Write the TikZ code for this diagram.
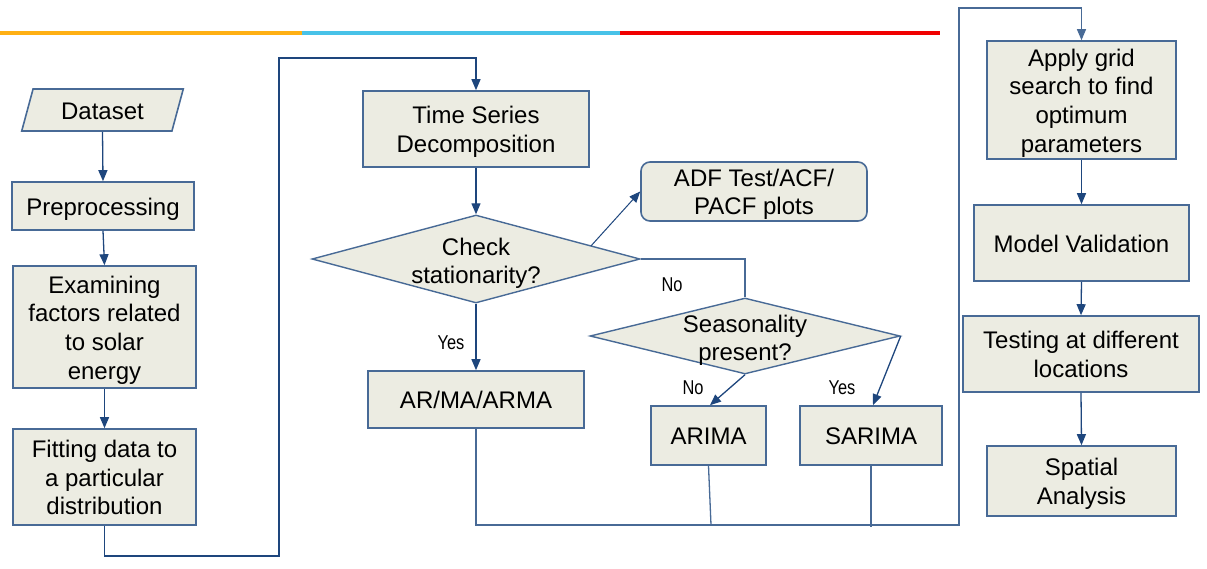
\documentclass[tikz,border=0pt]{standalone}
\usepackage{fontspec}
\setmainfont{Liberation Sans}
\newfontfamily\lblfont[FakeStretch=0.82]{Liberation Sans}
\usetikzlibrary{arrows.meta,shapes.geometric,calc}
\definecolor{boxfill}{RGB}{236,236,226}
\definecolor{bordercol}{RGB}{72,106,150}
\definecolor{arrcol}{RGB}{30,70,125}
\definecolor{barorange}{RGB}{255,176,20}
\definecolor{barcyan}{RGB}{72,194,232}
\definecolor{barred}{RGB}{240,0,0}
\newcommand{\stt}{\rule{0pt}{0.97em}}
\newcommand{\stb}{\rule[-0.212em]{0pt}{0pt}}
\tikzset{
  box/.style={draw=bordercol, line width=1.6pt, fill=boxfill, inner sep=0pt, align=center,
    font=\fontsize{24}{28.7}\selectfont},
  dia/.style={diamond, draw=bordercol, line width=1.4pt, fill=boxfill, inner sep=0pt},
  txt/.style={inner sep=0pt, align=center, font=\fontsize{24}{28}\selectfont},
  lbl/.style={inner sep=0pt, font=\lblfont\fontsize{20}{24}\selectfont},
  ln/.style={draw=bordercol, line width=1.3pt},
  arr/.style={draw=arrcol, line width=1.3pt, -{Triangle[length=11pt,width=9pt]}},
}
\begin{document}
\begin{tikzpicture}[x=1pt,y=-1pt]
\useasboundingbox (0,0) rectangle (1207,568);
% top colour bar
\draw[barorange, line width=4pt] (0,33) -- (302,33);
\draw[barcyan, line width=4pt] (302,33) -- (620,33);
\draw[barred, line width=4pt] (620,33) -- (940,33);
% left column
\node[box, trapezium, trapezium left angle=76.6, trapezium right angle=103.4, trapezium stretches=true,
  minimum width=163, minimum height=42] (ds) at (102.5,110) {\stt Dataset\stb};
\node[box, minimum width=182, minimum height=48] (pre) at (103,206) {\stt Preprocessing\stb};
\node[box, minimum width=183, minimum height=122] (ex) at (104.5,327) {\stt Examining\\factors related\\to solar\\energy\stb};
\node[box, minimum width=183, minimum height=96] (fit) at (104.5,477) {\stt Fitting data to\\a particular\\distribution\stb};
% middle
\node[box, minimum width=226, minimum height=76] (ts) at (476,129) {\stt Time Series\\Decomposition\stb};
\node[dia, minimum width=328, minimum height=88] (chk) at (476,259) {};
\node[txt] (chkt) at (476,263) {Check\\stationarity?};
\node[box, rounded corners=9pt, minimum width=226, minimum height=59] (adf) at (754,191.5) {\stt ADF Test/ACF/\\PACF plots\stb};
\node[dia, minimum width=310, minimum height=76] (sea) at (745,336) {};
\node[txt] (seat) at (745,340) {Seasonality\\present?};
\node[box, minimum width=216, minimum height=57] (ar) at (476,399.5) {\stt AR/MA/ARMA\stb};
\node[box, minimum width=115, minimum height=59] (arima) at (708.5,435.5) {\stt ARIMA\stb};
\node[box, minimum width=142, minimum height=59] (sarima) at (871,435.5) {\stt SARIMA\stb};
% right column
\node[box, minimum width=189, minimum height=118] (ap) at (1081.5,100) {\stt Apply grid\\search to find\\optimum\\parameters\stb};
\node[box, minimum width=215, minimum height=76] (mv) at (1081.5,243) {\stt Model Validation\stb};
\node[box, minimum width=236, minimum height=76] (tst) at (1081,354) {\stt Testing at different\\locations\stb};
\node[box, minimum width=189, minimum height=70] (sp) at (1081.5,481) {\stt Spatial\\Analysis\stb};
% labels
\node[lbl] (lno1) at (672,285) {No};
\node[lbl] (lyes1) at (451,343) {Yes};
\node[lbl] (lno2) at (693,388) {No};
\node[lbl] (lyes2) at (842,388) {Yes};
% coordinates
\coordinate (c1) at (279,556);
\coordinate (c2) at (279,58);
\coordinate (b2) at (959,525);
\coordinate (b3) at (959,8);
\coordinate (b4) at (711,525);
\coordinate (b5) at (871,527);
\coordinate (adfs) at ($(chk.east)!0.3!(chk.north)$);
% connectors
\draw[arr] (ds.south) -- (pre.north);
\draw[arr] (pre.south) -- (ex.north);
\draw[arr] (ex.south) -- (fit.north);
\draw[arr] (fit.south) |- (c1) -- (c2) -| (ts.north);
\draw[arr] (ts.south) -- (chk.north);
\draw[arr, line width=1pt] (adfs) -- (adf.west);
\draw[ln] (chk.east) -| (sea.north);
\draw[arr] (chk.south) -- (ar.north);
\draw[arr] (sea.south) -- ($(arima.north)+(1.5,0)$);
\draw[arr] (sea.east) -- ($(sarima.north)+(2,0)$);
\draw[arr, draw=bordercol] (ar.south) |- (b2) -- (b3) -| (ap.north);
\draw[ln] (arima.south) -- (b4);
\draw[ln] (sarima.south) -- (b5);
\draw[arr] (ap.south) -- (mv.north);
\draw[arr] (mv.south) -- (tst.north);
\draw[arr] (tst.south) -- (sp.north);
\end{tikzpicture}
\end{document}
